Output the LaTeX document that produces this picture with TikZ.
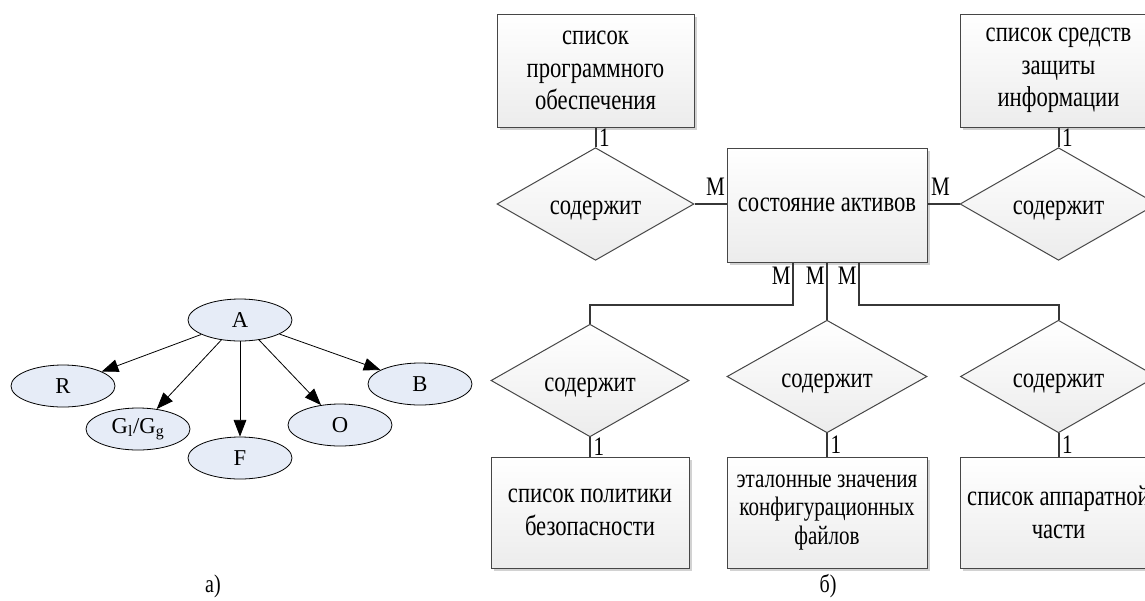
\documentclass[tikz,border=0pt]{standalone}
\usepackage{fontspec}
\setmainfont{Liberation Serif}
\newfontfamily\erfont{Liberation Serif}[FakeStretch=0.79]
\usetikzlibrary{shapes.geometric,arrows.meta,shadows}
\definecolor{ellfill}{RGB}{230,236,247}
\definecolor{erline}{RGB}{70,70,70}
\definecolor{connline}{RGB}{55,55,55}
\begin{document}
\begin{tikzpicture}[x=0.75pt,y=-0.75pt,
  ell/.style={ellipse,draw=black,line width=0.6pt,fill=ellfill,minimum width=78pt,minimum height=31.5pt,inner sep=0pt,font=\fontsize{17}{19}\selectfont},
  arr/.style={-{Triangle[length=12.5pt,width=9.5pt]},line width=0.6pt},
  ent/.style={rectangle,draw=erline,line width=0.75pt,top color=white,bottom color=gray!15,drop shadow={shadow xshift=2.5pt,shadow yshift=-2.5pt,fill=gray!35,opacity=1},align=center,inner sep=2pt,font=\fontsize{21.5}{24.5}\erfont},
  rel/.style={diamond,draw=erline,line width=0.75pt,top color=white,bottom color=gray!15,inner sep=0pt,text height=16pt,text depth=0pt,font=\fontsize{21.5}{24.5}\erfont},
  conn/.style={draw=connline,line width=1.5pt},
  card/.style={font=\fontsize{20}{22}\erfont,inner sep=0pt},
  subcap/.style={font=\fontsize{19}{21}\erfont,inner sep=0pt},
]
\useasboundingbox (0,0) rectangle (1145,600);
\clip (0,0) rectangle (1145,600);

% ---- a) graph ----
\node[ell] (A) at (240,320) {A};
\node[ell] (R) at (63,386) {R};
\node[ell] (G) at (138,429) {G\textsubscript{l}/G\textsubscript{g}};
\node[ell] (F) at (240,458) {F};
\node[ell] (O) at (340,425) {O};
\node[ell] (B) at (420,384) {B};
\draw[arr] (A) -- (R);
\draw[arr] (A) -- (G);
\draw[arr] (A) -- (F);
\draw[arr] (A) -- (O);
\draw[arr] (A) -- (B);
\node[subcap] (la) at (213,586) {а)};

% ---- b) ER diagram ----
\node[ent,minimum width=147.75pt,minimum height=84.75pt] (sw) at (595.5,70.5) {список\\программного\\обеспечения};
\node[ent,minimum width=147.75pt,minimum height=84.75pt] (zi) at (1058.5,70.5) {список средств\\защиты\\информации};
\node[ent,minimum width=150pt,minimum height=85.5pt] (st) at (827,205) {состояние активов};
\node[ent,minimum width=148.5pt,minimum height=83.25pt] (pol) at (590,512.5) {список политики\\безопасности};
\node[ent,minimum width=150pt,minimum height=83.25pt,font=\fontsize{20}{21.5}\erfont] (cfg) at (827,512.5) {эталонные значения\\конфигурационных\\файлов};
\node[ent,minimum width=147.75pt,minimum height=83.25pt] (hw) at (1058.5,512.5) {список аппаратной\\части};

\node[rel,minimum width=147.75pt,minimum height=83.25pt] (d1) at (595.5,204) {содержит};
\node[rel,minimum width=147.75pt,minimum height=82.5pt] (d2) at (1058.5,204) {содержит};
\node[rel,minimum width=148.5pt,minimum height=83.25pt] (d3) at (590,380.5) {содержит};
\node[rel,minimum width=150pt,minimum height=83.25pt] (d4) at (827,376.5) {содержит};
\node[rel,minimum width=147pt,minimum height=83.25pt] (d5) at (1058.5,376.5) {содержит};

\draw[conn] (sw.south) -- node[card,right=2pt]{1} (d1.north);
\draw[conn] (zi.south) -- node[card,right=2pt]{1} (d2.north);
\draw[conn] (d1.east) -- node[card,pos=1,anchor=south east,yshift=6pt,xshift=-0.5pt]{M} (d1.east -| st.west);
\draw[conn] (d2.west -| st.east) -- node[card,pos=0,anchor=south west,yshift=6pt,xshift=2pt]{M} (d2.west);
\draw[conn] ([xshift=-25.5pt]st.south) -- node[card,pos=0,anchor=north east,yshift=-3pt,xshift=-1pt]{M} ++(0,42) -| (d3.north);
\draw[conn] (st.south) -- node[card,pos=0,anchor=north east,yshift=-3pt,xshift=-1pt]{M} (d4.north);
\draw[conn] ([xshift=24pt]st.south) -- node[card,pos=0,anchor=north east,yshift=-3pt,xshift=-1pt]{M} ++(0,42) -| (d5.north);
\draw[conn] (d3.south) -- node[card,right=2pt]{1} (pol.north);
\draw[conn] (d4.south) -- node[card,right=2pt]{1} (cfg.north);
\draw[conn] (d5.south) -- node[card,right=2pt]{1} (hw.north);

\node[subcap] (lb) at (828,586) {б)};
\end{tikzpicture}
\end{document}
